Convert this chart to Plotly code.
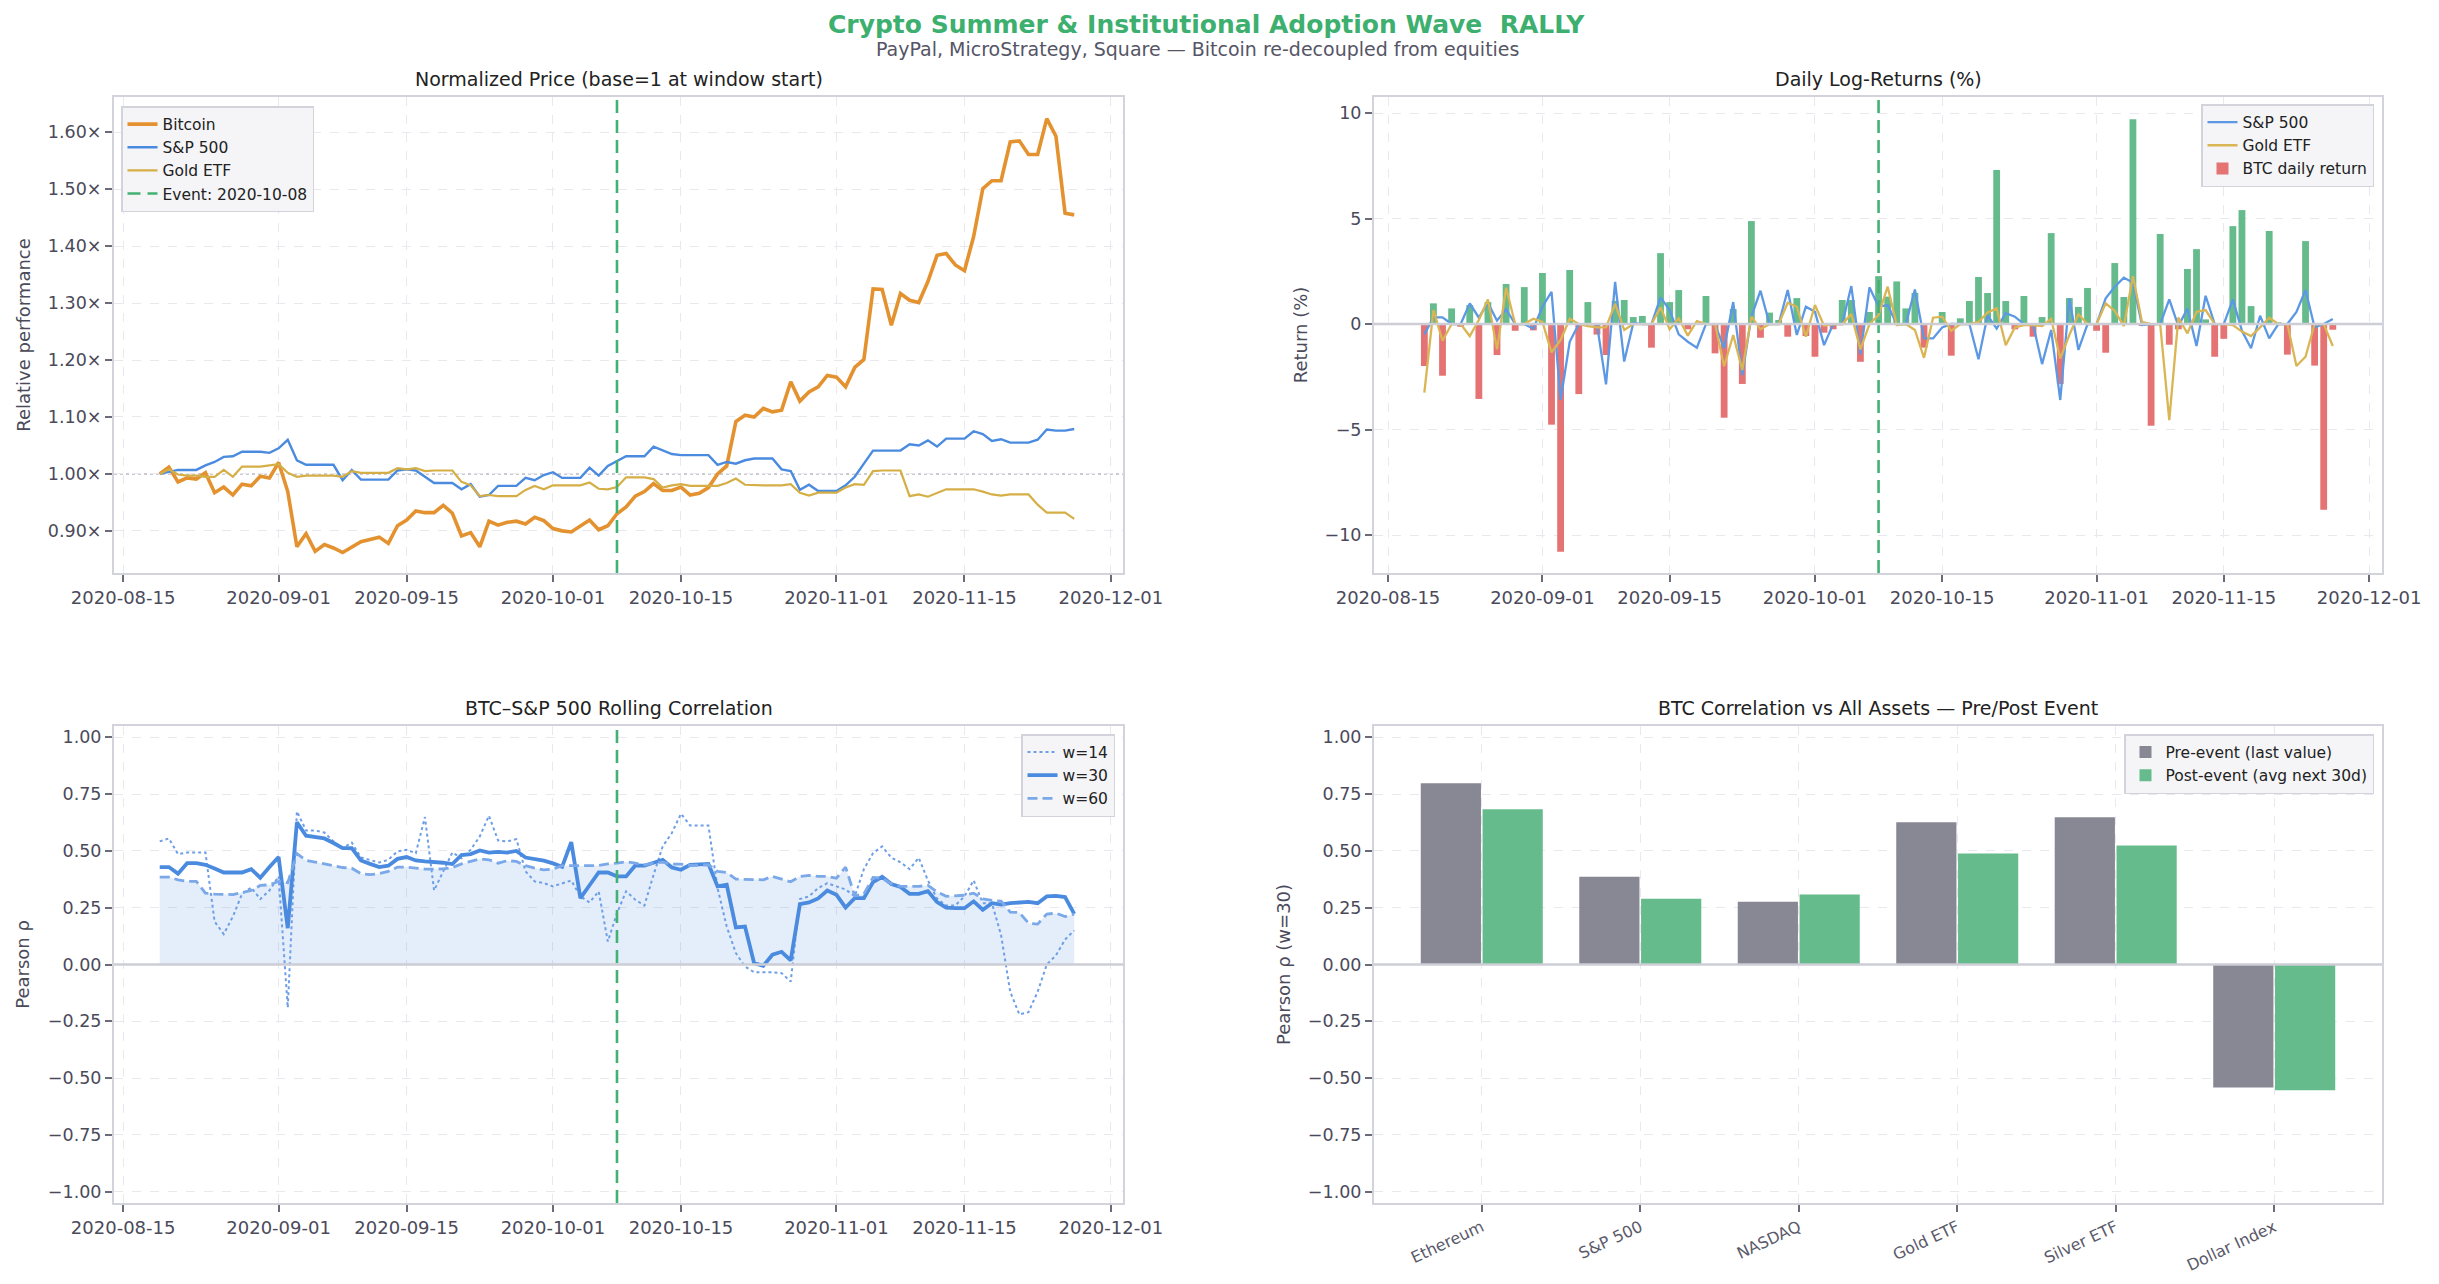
import numpy as np
import pandas as pd
import plotly.graph_objects as go

# ---------------- data ----------------
start_date = "2020-08-19"
event_date = "2020-10-08"
n_days = 101
dates = pd.date_range(start_date, periods=n_days, freq="D")

tick_dates = ["2020-08-15", "2020-09-01", "2020-09-15", "2020-10-01",
              "2020-10-15", "2020-11-01", "2020-11-15", "2020-12-01"]

btc_price = [1.000, 1.012, 0.986, 0.993, 0.991, 1.002, 0.967, 0.977, 0.963, 0.982,
             0.979, 0.996, 0.993, 1.020, 0.969, 0.872, 0.895, 0.864, 0.876, 0.870,
             0.862, 0.872, 0.881, 0.885, 0.889, 0.878, 0.909, 0.919, 0.935, 0.932,
             0.932, 0.945, 0.931, 0.891, 0.897, 0.872, 0.917, 0.910, 0.915, 0.917,
             0.912, 0.924, 0.918, 0.904, 0.900, 0.898, 0.909, 0.919, 0.902, 0.909,
             0.930, 0.942, 0.961, 0.969, 0.983, 0.971, 0.971, 0.977, 0.963, 0.966,
             0.976, 1.000, 1.014, 1.092, 1.103, 1.100, 1.115, 1.109, 1.112, 1.162,
             1.128, 1.144, 1.153, 1.173, 1.170, 1.153, 1.187, 1.201, 1.325, 1.324,
             1.261, 1.317, 1.305, 1.301, 1.338, 1.384, 1.387, 1.367, 1.357, 1.417,
             1.501, 1.515, 1.515, 1.583, 1.585, 1.561, 1.561, 1.624, 1.593, 1.458,
             1.455]

spx_price = [1.000, 1.004, 1.007, 1.007, 1.007, 1.015, 1.021, 1.030, 1.031, 1.039,
             1.039, 1.039, 1.037, 1.045, 1.060, 1.024, 1.016, 1.016, 1.016, 1.016,
             0.989, 1.007, 0.990, 0.990, 0.990, 0.990, 1.006, 1.008, 1.006, 0.995,
             0.984, 0.984, 0.984, 0.973, 0.982, 0.960, 0.963, 0.979, 0.979, 0.979,
             0.993, 0.989, 0.998, 1.003, 0.993, 0.993, 0.993, 1.011, 0.997, 1.014,
             1.022, 1.031, 1.031, 1.031, 1.048, 1.042, 1.035, 1.033, 1.033, 1.033,
             1.033, 1.016, 1.021, 1.018, 1.024, 1.027, 1.027, 1.027, 1.008, 1.005,
             0.972, 0.981, 0.970, 0.970, 0.970, 0.980, 0.995, 1.018, 1.041, 1.041,
             1.041, 1.041, 1.052, 1.050, 1.059, 1.048, 1.062, 1.062, 1.062, 1.075,
             1.070, 1.058, 1.061, 1.055, 1.055, 1.055, 1.060, 1.078, 1.076, 1.076,
             1.079]

gold_price = [1.000, 1.008, 0.999, 0.997, 0.997, 0.995, 0.995, 1.007, 0.995, 1.013,
              1.013, 1.013, 1.015, 1.017, 1.002, 0.995, 0.997, 0.997, 0.997, 0.997,
              0.995, 1.005, 1.002, 1.002, 1.002, 1.002, 1.010, 1.008, 1.010, 1.005,
              1.006, 1.006, 1.006, 0.986, 0.980, 0.961, 0.963, 0.961, 0.961, 0.961,
              0.972, 0.979, 0.973, 0.980, 0.980, 0.980, 0.980, 0.985, 0.974, 0.973,
              0.977, 0.994, 0.994, 0.994, 0.991, 0.976, 0.980, 0.982, 0.979, 0.979,
              0.979, 0.979, 0.984, 0.992, 0.981, 0.980, 0.980, 0.980, 0.980, 0.982,
              0.967, 0.962, 0.967, 0.967, 0.967, 0.976, 0.982, 0.981, 1.005, 1.006,
              1.006, 1.006, 0.961, 0.964, 0.960, 0.967, 0.973, 0.973, 0.973, 0.973,
              0.969, 0.964, 0.962, 0.964, 0.964, 0.964, 0.946, 0.932, 0.932, 0.932,
              0.921]

btc_ret = [-1.99, 0.98, -2.45, 0.74, -0.13, 0.90, -3.55, 1.04, -1.47, 1.90,
           -0.32, 1.75, -0.30, 2.42, -4.77, -10.79, 2.56, -3.32, 1.04, -0.50,
           -1.47, 1.10, 1.14, 0.33, 0.38, -1.12, 3.36, 1.04, 1.61, -0.25,
           0.02, 1.33, -1.39, -4.44, 0.71, -2.84, 4.88, -0.65, 0.54, 0.19,
           -0.60, 1.23, -0.57, -1.55, -0.41, -0.25, 1.14, 1.14, -1.79, 0.57,
           2.27, 1.30, 2.02, 0.74, 1.47, -1.12, 0.03, 0.57, -1.50, 0.27,
           1.09, 2.23, 1.47, 7.30, 1.09, -0.25, 1.33, -0.60, 0.33, 4.31,
           -2.84, 1.23, 0.81, 1.71, -0.32, -1.36, 2.89, 1.28, 9.70, -0.06,
           -4.82, 4.27, -0.98, -0.25, 2.61, 3.55, 0.22, -1.55, -0.70, 4.64,
           5.40, 0.85, 0.02, 4.41, 0.08, -1.45, -0.02, 3.93, -1.97, -8.80,
           -0.27]

spx_ret = [-0.49, 0.32, 0.32, 0.00, 0.00, 0.98, 0.30, 1.01, 0.16, 0.70,
           0.00, 0.00, -0.22, 0.82, 1.53, -3.60, -0.84, 0.00, 0.00, 0.00,
           -2.86, 2.00, -1.78, 0.05, 0.00, 0.00, 1.26, 0.66, -0.49, -0.84,
           -1.12, 0.00, 0.00, -1.15, 1.04, -2.42, 0.35, 1.58, 0.00, 0.00,
           1.61, -0.52, 0.82, 0.58, -1.00, 0.00, 0.00, 1.80, -1.44, 1.74,
           0.82, 0.90, 0.00, 0.00, 1.64, -0.68, -0.68, -0.16, 0.01, 0.00,
           0.00, -1.67, 0.41, -0.22, 0.51, 0.35, 0.00, 0.00, -1.90, -0.28,
           -3.60, 1.22, -1.23, 0.00, 0.00, 1.22, 1.77, 2.20, 1.96, -0.05,
           0.00, 0.00, 1.17, -0.10, 0.74, -1.04, 1.34, 0.00, 0.00, 1.17,
           -0.32, -1.15, 0.39, -0.68, 0.00, 0.00, 0.57, 1.61, -0.16, 0.00,
           0.24]

gold_ret = [-3.25, 0.66, -0.79, 0.00, 0.00, -0.57, 0.19, 1.17, -1.20, 1.72,
            0.00, 0.00, 0.25, 0.10, -1.34, -0.76, 0.25, 0.00, -0.10, -0.16,
            -0.16, 0.95, -0.28, 0.00, 0.00, 0.00, 0.79, -0.25, 0.27, -0.55,
            0.14, 0.00, 0.00, -2.00, -0.52, -2.18, 0.35, -0.25, 0.00, 0.00,
            1.01, 0.82, -0.60, 0.90, -0.08, 0.00, 0.00, 0.47, -1.20, 0.00,
            0.43, 1.77, -0.05, 0.00, -0.28, -1.60, 0.30, 0.35, -0.32, 0.00,
            0.00, 0.10, 0.55, 0.74, -1.00, -0.16, -0.05, -0.05, -0.10, 0.25,
            -1.63, -0.52, 0.46, 0.00, 0.00, 0.98, 0.62, -0.10, 2.27, 0.10,
            0.00, 0.00, -4.55, 0.30, -0.44, 0.58, 0.66, 0.00, 0.00, -0.05,
            -0.36, -0.57, -0.16, 0.30, 0.00, 0.00, -1.99, -1.55, 0.00, 0.00,
            -1.04]

corr_w14 = [0.542, 0.555, 0.486, 0.493, 0.493, 0.493, 0.189, 0.134, 0.211, 0.311,
            0.339, 0.288, 0.326, 0.388, -0.190, 0.674, 0.590, 0.590, 0.581, 0.542,
            0.512, 0.537, 0.471, 0.461, 0.449, 0.461, 0.498, 0.505, 0.490, 0.649,
            0.326, 0.410, 0.493, 0.468, 0.505, 0.564, 0.655, 0.546, 0.542, 0.552,
            0.410, 0.366, 0.358, 0.344, 0.358, 0.370, 0.300, 0.273, 0.322, 0.101,
            0.226, 0.322, 0.285, 0.260, 0.395, 0.520, 0.579, 0.664, 0.612, 0.612,
            0.612, 0.336, 0.167, 0.050, -0.009, -0.034, -0.034, -0.034, -0.038, -0.075,
            0.288, 0.300, 0.336, 0.358, 0.344, 0.330, 0.300, 0.420, 0.490, 0.520,
            0.470, 0.450, 0.420, 0.470, 0.370, 0.290, 0.260, 0.260, 0.300, 0.370,
            0.270, 0.270, 0.130, -0.120, -0.220, -0.210, -0.120, 0.000, 0.040, 0.110,
            0.150]

corr_w30 = [0.429, 0.429, 0.400, 0.446, 0.446, 0.439, 0.423, 0.405, 0.405, 0.405,
            0.420, 0.382, 0.429, 0.473, 0.160, 0.626, 0.567, 0.559, 0.555, 0.535,
            0.512, 0.512, 0.458, 0.443, 0.429, 0.435, 0.465, 0.473, 0.458, 0.454,
            0.452, 0.448, 0.442, 0.482, 0.486, 0.502, 0.493, 0.496, 0.493, 0.500,
            0.471, 0.464, 0.457, 0.445, 0.430, 0.539, 0.292, 0.349, 0.405, 0.405,
            0.388, 0.388, 0.436, 0.435, 0.446, 0.461, 0.427, 0.417, 0.439, 0.439,
            0.443, 0.344, 0.351, 0.163, 0.167, 0.006, -0.006, 0.043, 0.056, 0.018,
            0.266, 0.273, 0.291, 0.326, 0.307, 0.251, 0.292, 0.292, 0.363, 0.386,
            0.354, 0.341, 0.311, 0.311, 0.323, 0.275, 0.250, 0.248, 0.248, 0.278,
            0.241, 0.270, 0.264, 0.270, 0.273, 0.276, 0.270, 0.300, 0.302, 0.297,
            0.223]

corr_w60 = [0.385, 0.385, 0.373, 0.366, 0.366, 0.314, 0.310, 0.308, 0.308, 0.317,
            0.326, 0.348, 0.351, 0.366, 0.360, 0.488, 0.458, 0.451, 0.443, 0.435,
            0.427, 0.424, 0.400, 0.396, 0.400, 0.410, 0.429, 0.429, 0.423, 0.420,
            0.420, 0.421, 0.427, 0.443, 0.454, 0.465, 0.461, 0.446, 0.457, 0.454,
            0.435, 0.424, 0.417, 0.420, 0.435, 0.435, 0.432, 0.435, 0.436, 0.443,
            0.446, 0.452, 0.446, 0.439, 0.446, 0.451, 0.442, 0.442, 0.436, 0.439,
            0.439, 0.410, 0.405, 0.376, 0.376, 0.376, 0.373, 0.388, 0.376, 0.364,
            0.388, 0.392, 0.388, 0.388, 0.380, 0.429, 0.302, 0.311, 0.383, 0.380,
            0.355, 0.344, 0.344, 0.344, 0.348, 0.320, 0.300, 0.302, 0.305, 0.314,
            0.289, 0.282, 0.279, 0.231, 0.229, 0.182, 0.178, 0.222, 0.226, 0.211,
            0.222]

assets = ["Ethereum", "S&P 500", "NASDAQ", "Gold ETF", "Silver ETF", "Dollar Index"]
corr_pre = [0.798, 0.386, 0.276, 0.626, 0.648, -0.541]
corr_post = [0.683, 0.290, 0.308, 0.489, 0.524, -0.554]

price_ticks = [0.9, 1.0, 1.1, 1.2, 1.3, 1.4, 1.5, 1.6]
ret_ticks = [-10, -5, 0, 5, 10]
rho_ticks = [-1.0, -0.75, -0.5, -0.25, 0.0, 0.25, 0.5, 0.75, 1.0]

# ---------------- style ----------------
W, H = 2439, 1284
FONT = "DejaVu Sans"
C_BTC = "#E3922F"
C_SPX = "#4A8BE0"
C_GOLD = "#D5AF45"
C_EVENT = "#44B174"
C_UP = "#66BB8C"
C_DN = "#E57373"
C_PRE = "#888894"
C_POST = "#66BB8C"
C_TXT = "#4A4A5A"
C_SPINE = "#D3D3DC"
C_GRID = "#E8E8EE"


def minus(s):
    return s.replace("-", "\u2212")


def dom_x(a, b):
    return [a / W, b / W]


def dom_y(top, bottom):
    return [1 - bottom / H, 1 - top / H]


fig = go.Figure()

# ---- Panel 1: normalized price ----
fig.add_trace(go.Scatter(x=dates, y=btc_price, name="Bitcoin", mode="lines",
                         line=dict(color=C_BTC, width=3.6), xaxis="x", yaxis="y", legend="legend"))
fig.add_trace(go.Scatter(x=dates, y=spx_price, name="S&P 500", mode="lines",
                         line=dict(color=C_SPX, width=2.4), xaxis="x", yaxis="y", legend="legend"))
fig.add_trace(go.Scatter(x=dates, y=gold_price, name="Gold ETF", mode="lines",
                         line=dict(color=C_GOLD, width=2.2), xaxis="x", yaxis="y", legend="legend"))

# ---- Panel 2: daily log returns ----
bar_colors = [C_UP if r >= 0 else C_DN for r in btc_ret]
fig.add_trace(go.Scatter(x=dates, y=spx_ret, name="S&P 500", mode="lines",
                         line=dict(color="#5C98E4", width=2.3), xaxis="x2", yaxis="y2", legend="legend2"))
fig.add_trace(go.Scatter(x=dates, y=gold_ret, name="Gold ETF", mode="lines",
                         line=dict(color="#D9B553", width=2.3), xaxis="x2", yaxis="y2", legend="legend2"))
fig.add_trace(go.Bar(x=dates, y=btc_ret, name="BTC daily return",
                     marker=dict(color=bar_colors, line=dict(width=0)),
                     width=0.75 * 86400000, xaxis="x2", yaxis="y2", legend="legend2"))

# ---- Panel 3: rolling correlation ----
fig.add_trace(go.Scatter(x=dates, y=corr_w60, mode="lines", fill="tozeroy",
                         fillcolor="rgba(74,139,224,0.15)", line=dict(width=0),
                         showlegend=False, hoverinfo="skip", xaxis="x3", yaxis="y3"))
fig.add_trace(go.Scatter(x=dates, y=corr_w14, name="w=14", mode="lines",
                         line=dict(color="#6E9FE6", width=2.0, dash="dot"),
                         xaxis="x3", yaxis="y3", legend="legend3"))
fig.add_trace(go.Scatter(x=dates, y=corr_w30, name="w=30", mode="lines",
                         line=dict(color=C_SPX, width=3.8),
                         xaxis="x3", yaxis="y3", legend="legend3"))
fig.add_trace(go.Scatter(x=dates, y=corr_w60, name="w=60", mode="lines",
                         line=dict(color="#7AA8E8", width=2.8, dash="10px,5px"),
                         xaxis="x3", yaxis="y3", legend="legend3"))

# ---- Panel 4: pre/post bars ----
fig.add_trace(go.Bar(x=assets, y=corr_pre, name="Pre-event (last value)",
                     marker=dict(color=C_PRE, line=dict(width=0)),
                     xaxis="x4", yaxis="y4", legend="legend4"))
fig.add_trace(go.Bar(x=assets, y=corr_post, name="Post-event (avg next 30d)",
                     marker=dict(color=C_POST, line=dict(width=0)),
                     xaxis="x4", yaxis="y4", legend="legend4"))

# ---- shapes ----
shapes = []
for i, (xa, ya) in enumerate([("x", "y"), ("x2", "y2"), ("x3", "y3")]):
    shp = dict(type="line", xref=xa, yref=ya + " domain", x0=event_date, x1=event_date,
               y0=0, y1=1, line=dict(color=C_EVENT, width=2.6, dash="13px,7px"), layer="above")
    if i == 0:
        shp.update(showlegend=True, name="Event: " + event_date, legend="legend")
    shapes.append(shp)
shapes.append(dict(type="line", xref="x domain", yref="y", x0=0, x1=1, y0=1.0, y1=1.0,
                   line=dict(color="#B9B9C2", width=1.5, dash="dot"), layer="below"))
for xa, ya in [("x2", "y2"), ("x3", "y3"), ("x4", "y4")]:
    shapes.append(dict(type="line", xref=xa + " domain", yref=ya, x0=0, x1=1, y0=0, y1=0,
                       line=dict(color="#CDCDD6", width=2.6), layer="above"))
fig.update_layout(shapes=shapes)

# ---- axes ----
axis_common = dict(showline=True, linecolor=C_SPINE, linewidth=2, mirror=True,
                   ticks="outside", ticklen=7, tickwidth=1.5, tickcolor="#6A6A78",
                   showgrid=True, gridcolor=C_GRID, gridwidth=1.2, griddash="dash",
                   zeroline=False, automargin=False,
                   tickfont=dict(family=FONT, size=18, color=C_TXT))

time_axis = dict(axis_common, type="date", tickvals=tick_dates, ticktext=tick_dates)
ytick_font = dict(family=FONT, size=17.5, color=C_TXT)

fig.update_layout(
    xaxis=dict(time_axis, domain=dom_x(114, 1123), anchor="y",
               range=["2020-08-14 00:00", "2020-12-02 08:00"]),
    yaxis=dict(axis_common, domain=dom_y(97, 573), anchor="x", range=[0.826, 1.662],
               tickvals=price_ticks, ticktext=[f"{v:.2f}\u00d7" for v in price_ticks],
               tickfont=ytick_font,
               title=dict(text="Relative performance", standoff=13,
                          font=dict(family=FONT, size=18, color=C_TXT))),
    xaxis2=dict(time_axis, domain=dom_x(1374, 2382), anchor="y2",
                range=["2020-08-13 11:00", "2020-12-02 10:00"]),
    yaxis2=dict(axis_common, domain=dom_y(97, 573), anchor="x2", range=[-11.8, 10.76],
                tickvals=ret_ticks, ticktext=[minus(str(v)) for v in ret_ticks],
                tickfont=ytick_font,
                title=dict(text="Return (%)", standoff=12,
                           font=dict(family=FONT, size=18, color=C_TXT))),
    xaxis3=dict(time_axis, domain=dom_x(114, 1123), anchor="y3",
                range=["2020-08-14 00:00", "2020-12-02 08:00"]),
    yaxis3=dict(axis_common, domain=dom_y(726, 1203), anchor="x3", range=[-1.05, 1.05],
                tickvals=rho_ticks, ticktext=[minus(f"{v:.2f}") for v in rho_ticks],
                tickfont=ytick_font,
                title=dict(text="Pearson \u03c1", standoff=14,
                           font=dict(family=FONT, size=18, color=C_TXT))),
    xaxis4=dict(axis_common, domain=dom_x(1374, 2382), anchor="y4", type="category",
                range=[-0.68, 5.68], tickangle=-25,
                tickfont=dict(family=FONT, size=16, color="#5A5A6A")),
    yaxis4=dict(axis_common, domain=dom_y(726, 1203), anchor="x4", range=[-1.05, 1.05],
                tickvals=rho_ticks, ticktext=[minus(f"{v:.2f}") for v in rho_ticks],
                tickfont=ytick_font,
                title=dict(text="Pearson \u03c1 (w=30)", standoff=13,
                           font=dict(family=FONT, size=18, color=C_TXT))),
)

# ---- legends ----
leg_common = dict(bgcolor="#F5F5F8", bordercolor="#D3D3DC", borderwidth=1.5,
                  font=dict(family=FONT, size=15.5, color="#222222"),
                  yanchor="top", tracegroupgap=2)
fig.update_layout(
    legend=dict(leg_common, x=121 / W, y=1 - 106 / H, xanchor="left"),
    legend2=dict(leg_common, x=2374 / W, y=1 - 104 / H, xanchor="right"),
    legend3=dict(leg_common, x=1115 / W, y=1 - 734 / H, xanchor="right"),
    legend4=dict(leg_common, x=2374 / W, y=1 - 734 / H, xanchor="right"),
)

# ---- titles ----
ann = [
    dict(text="<b>Crypto Summer &amp; Institutional Adoption Wave\u00a0 RALLY</b>",
         x=1206 / W, y=1 - 25 / H, font=dict(family=FONT, size=25, color="#3DAF6F")),
    dict(text="PayPal, MicroStrategy, Square \u2014 Bitcoin re-decoupled from equities",
         x=1197 / W, y=1 - 49 / H, font=dict(family=FONT, size=19, color="#555566")),
    dict(text="Normalized Price (base=1 at window start)", x=618.5 / W, y=1 - 79 / H,
         font=dict(family=FONT, size=19, color="#222222")),
    dict(text="Daily Log-Returns (%)", x=1878 / W, y=1 - 79 / H,
         font=dict(family=FONT, size=19, color="#222222")),
    dict(text="BTC\u2013S&amp;P 500 Rolling Correlation", x=618.5 / W, y=1 - 708 / H,
         font=dict(family=FONT, size=19, color="#222222")),
    dict(text="BTC Correlation vs All Assets \u2014 Pre/Post Event", x=1878 / W, y=1 - 708 / H,
         font=dict(family=FONT, size=19, color="#222222")),
]
for a in ann:
    a.update(xref="paper", yref="paper", xanchor="center", yanchor="middle", showarrow=False)
fig.update_layout(annotations=ann)

fig.update_layout(
    width=W, height=H, autosize=False,
    margin=dict(l=0, r=0, t=0, b=0),
    paper_bgcolor="white", plot_bgcolor="white",
    barmode="group", bargap=0.22, bargroupgap=0.026,
    font=dict(family=FONT, color=C_TXT),
    showlegend=True,
)

fig.write_html("out.html")
